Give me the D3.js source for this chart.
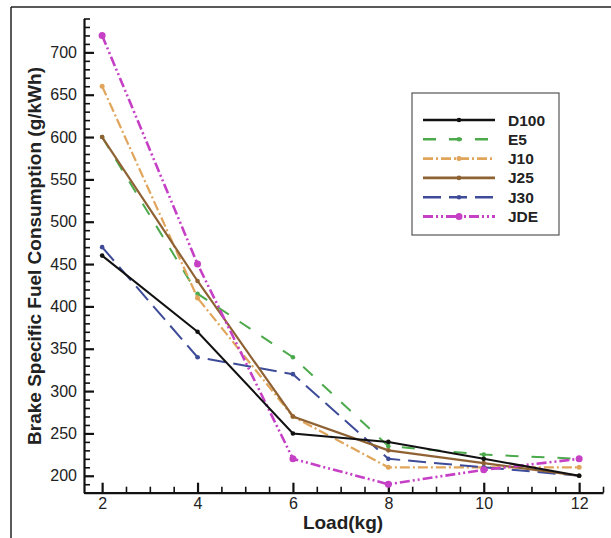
<!DOCTYPE html>
<html>
<head>
<meta charset="utf-8">
<script src="https://cdn.jsdelivr.net/npm/d3@7"></script>
<style>
  body { margin: 0; background: white; }
  svg { display: block; font-family: "Liberation Sans", Arial, sans-serif; }
</style>
</head>
<body>
<script>
// chart data
const loads = [2, 4, 6, 8, 10, 12];
const d100 = [460, 370, 250, 240, 220, 200];
const e5 = [600, 415, 340, 235, 225, 220];
const j10 = [660, 410, 270, 210, 210, 210];
const j25 = [600, 430, 270, 230, 215, 200];
const j30 = [470, 340, 320, 220, 210, 200];
const jde = [720, 450, 220, 190, 207, 220];

const seriesNames = ["D100", "E5", "J10", "J25", "J30", "JDE"];
const seriesValues = [d100, e5, j10, j25, j30, jde];

const xTicks = [2, 4, 6, 8, 10, 12];
const yTicks = [200, 250, 300, 350, 400, 450, 500, 550, 600, 650, 700];

// looks of each series
const seriesColors = ["#111111", "#4caa4c", "#e0a55a", "#8f6234", "#3e4b98", "#c640c6"];
const seriesDashes = [null, "13,13", "10,3,2,3", null, "18,8", "10,3,2,3,2,3"];
const seriesWidths = [2, 2, 2.2, 2.2, 2, 2.6];
const markerSizes = [2.3, 2.3, 2.5, 2.3, 2.3, 3.5];

const width = 611;
const height = 538;

// sets up canvas
let c = d3.select("body").append("svg")
  .attr("width", width)
  .attr("height", height);

c.append("rect")
  .attr("width", width)
  .attr("height", height)
  .attr("fill", "white");

// thin frame at top and left of the picture
c.append("line")
  .attr("x1", 11).attr("x2", width)
  .attr("y1", 7).attr("y2", 7)
  .attr("stroke", "#222")
  .attr("stroke-width", 1.5);

c.append("line")
  .attr("x1", 11).attr("x2", 11)
  .attr("y1", 7).attr("y2", height)
  .attr("stroke", "#222")
  .attr("stroke-width", 1.5);

// scales
let x = d3.scaleLinear().domain([1.62, 12.5]).range([84, 603]);
let y = d3.scaleLinear().domain([180, 740]).range([492.7, 18.5]);

// minor ticks
let xMinor = d3.range(2, 12.51, 0.5).filter(v => !xTicks.includes(v));
let yMinor = d3.range(180, 741, 10).filter(v => !yTicks.includes(v));

c.append("g")
  .attr("transform", "translate(0," + y(180) + ")")
  .call(d3.axisBottom(x).tickValues(xMinor).tickSize(-6).tickFormat(""))
  .call(g => g.select(".domain").remove())
  .call(g => g.selectAll("line").attr("stroke", "#111").attr("stroke-width", 1.6));

c.append("g")
  .attr("transform", "translate(" + x(1.62) + ",0)")
  .call(d3.axisLeft(y).tickValues(yMinor).tickSize(-6).tickFormat(""))
  .call(g => g.select(".domain").remove())
  .call(g => g.selectAll("line").attr("stroke", "#111").attr("stroke-width", 1.6));

// major ticks and labels
let xAxis = c.append("g")
  .attr("transform", "translate(0," + y(180) + ")")
  .call(d3.axisBottom(x).tickValues(xTicks).tickSizeInner(-10).tickSizeOuter(0).tickPadding(5));

let yAxis = c.append("g")
  .attr("transform", "translate(" + x(1.62) + ",0)")
  .call(d3.axisLeft(y).tickValues(yTicks).tickSizeInner(-10).tickSizeOuter(0).tickPadding(7));

[xAxis, yAxis].forEach(a => {
  a.select(".domain").attr("stroke", "#111").attr("stroke-width", 2.2);
  a.selectAll(".tick line").attr("stroke", "#111").attr("stroke-width", 2.2);
  a.selectAll("text")
    .attr("fill", "#222")
    .style("font-size", "16px")
    .style("font-family", "'Liberation Sans', Arial, sans-serif");
});

// axis titles
c.append("text")
  .attr("x", 343)
  .attr("y", 529)
  .attr("text-anchor", "middle")
  .attr("font-size", 19)
  .attr("font-weight", "bold")
  .attr("fill", "#222")
  .text("Load(kg)");

c.append("text")
  .attr("transform", "translate(40.5,256) rotate(-90)")
  .attr("text-anchor", "middle")
  .attr("font-size", 19)
  .attr("font-weight", "bold")
  .attr("fill", "#222")
  .text("Brake Specific Fuel Consumption (g/kWh)");

// the lines and their points
let line = d3.line()
  .x((d, i) => x(loads[i]))
  .y(d => y(d));

let drawOrder = [1, 2, 4, 3, 5, 0];
drawOrder.forEach(k => {
  c.append("path")
    .attr("d", line(seriesValues[k]))
    .attr("fill", "none")
    .attr("stroke", seriesColors[k])
    .attr("stroke-width", seriesWidths[k])
    .attr("stroke-dasharray", seriesDashes[k]);

  c.selectAll(".pt" + k)
    .data(seriesValues[k])
    .enter().append("circle")
    .attr("class", "pt" + k)
    .attr("cx", (d, i) => x(loads[i]))
    .attr("cy", d => y(d))
    .attr("r", markerSizes[k])
    .attr("fill", seriesColors[k]);
});

// legend
let legend = c.append("g");

legend.append("rect")
  .attr("x", 412)
  .attr("y", 93)
  .attr("width", 147)
  .attr("height", 142)
  .attr("fill", "white")
  .attr("stroke", "#555")
  .attr("stroke-width", 1.2);

seriesNames.forEach((name, k) => {
  let ly = 120 + k * 19.3;
  legend.append("line")
    .attr("x1", 423).attr("x2", 495)
    .attr("y1", ly).attr("y2", ly)
    .attr("stroke", seriesColors[k])
    .attr("stroke-width", seriesWidths[k] + 0.4)
    .attr("stroke-dasharray", seriesDashes[k]);
  legend.append("circle")
    .attr("cx", 459)
    .attr("cy", ly)
    .attr("r", markerSizes[k])
    .attr("fill", seriesColors[k]);
  legend.append("text")
    .attr("x", 508)
    .attr("y", ly)
    .attr("dy", "0.36em")
    .attr("font-size", 15.5)
    .attr("font-weight", "bold")
    .attr("fill", "#222")
    .text(name);
});
</script>
</body>
</html>
